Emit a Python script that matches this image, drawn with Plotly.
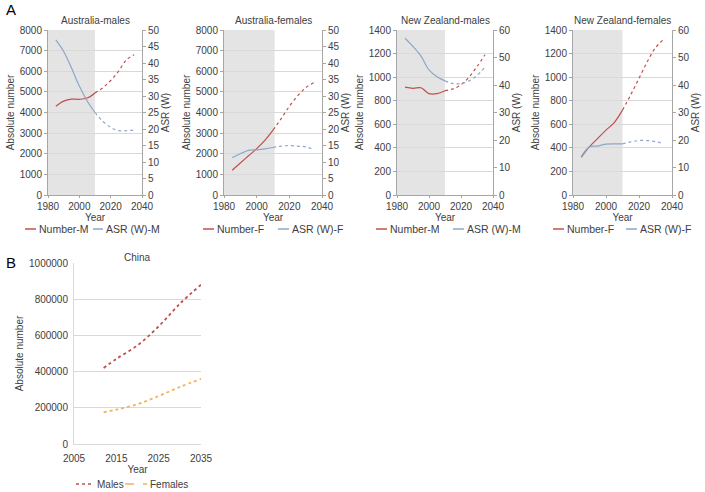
import plotly.graph_objects as go

# ---------------- data ----------------
years = [1985, 1990, 1995, 2000, 2005, 2010, 2015, 2020, 2025, 2030, 2035]

au_m_number = [4300, 4550, 4650, 4640, 4700, 4950, 5200, 5550, 6000, 6550, 6800]
au_m_asr = [47, 43.5, 38.5, 33, 28.5, 25, 22.3, 20.5, 19.5, 19.5, 19.7]

au_f_number = [1200, 1550, 1900, 2250, 2650, 3150, 3700, 4300, 4800, 5200, 5450]
au_f_asr = [11.3, 12.5, 13.5, 13.7, 14.0, 14.4, 14.8, 15.0, 14.8, 14.6, 13.8]

nz_m_number = [915, 905, 910, 860, 860, 885, 900, 935, 1000, 1090, 1190]
nz_m_asr = [57, 54, 50.5, 45.5, 43, 41.5, 40.5, 40.5, 41.5, 43.5, 46.5]

nz_f_number = [320, 410, 480, 550, 615, 720, 850, 990, 1130, 1250, 1320]
nz_f_asr = [14, 17.5, 17.8, 18.5, 18.6, 18.6, 19.3, 19.8, 19.8, 19.4, 18.7]

china_years = [2012, 2015, 2020, 2025, 2030, 2035]
china_males = [420000, 470000, 545000, 650000, 775000, 880000]
china_females = [175000, 190000, 220000, 265000, 315000, 360000]

panel_titles = ["Australia-males", "Australia-females", "New Zealand-males", "New Zealand-females"]
number_names = ["Number-M", "Number-F", "Number-M", "Number-F"]
asr_names = ["ASR (W)-M", "ASR (W)-F", "ASR (W)-M", "ASR (W)-F"]
number_series = [au_m_number, au_f_number, nz_m_number, nz_f_number]
asr_series = [au_m_asr, au_f_asr, nz_m_asr, nz_f_asr]
left_max = [8000, 8000, 1400, 1400]
left_step = [1000, 1000, 200, 200]
right_max = [50, 50, 60, 60]
right_step = [5, 5, 10, 10]
observed_end = [2010, 2011, 2010, 2010]
cut_year = 2010

# ---------------- style ----------------
W, H = 705, 492
RED = "#c0504d"
BLUE = "#8ba7c9"
ORANGE = "#f2b456"
GRID = "#d9d9d9"
AXIS = "#a6a6a6"
TXT = "#404040"
FONT = "Liberation Sans, Arial, sans-serif"
SHADE = "#e4e4e4"
FS = 10
LFS = 10.5

def px_x(a, b):
    return [a / W, b / W]

def px_y(top, bottom):
    return [1 - bottom / H, 1 - top / H]

x_domains = [px_x(48, 142), px_x(224, 322), px_x(397, 493), px_x(573, 672)]
top_ydom = px_y(30, 195)
# legend layout (pixels): line1 start, line1 end, line2 start, line2 end
legend_px = [(25, 36, 93, 103), (203, 214, 278, 289), (376, 387, 453, 464), (553, 564, 626, 637)]
LEG_Y = 229

fig = go.Figure()
layout = dict(
    width=W, height=H,
    margin=dict(l=0, r=0, t=0, b=0, autoexpand=False),
    paper_bgcolor="white", plot_bgcolor="white",
    font=dict(family=FONT, size=FS, color=TXT),
    showlegend=False,
    shapes=[], annotations=[],
)

def split(xs, ys, cut):
    hx = [x for x in xs if x <= cut]
    hy = [y for x, y in zip(xs, ys) if x <= cut]
    px_ = [x for x in xs if x >= cut]
    py = [y for x, y in zip(xs, ys) if x >= cut]
    return hx, hy, px_, py

def legend_item(x0, x1, y, color, dash, text, fs):
    layout["shapes"].append(dict(
        type="line", xref="paper", yref="paper", x0=x0 / W, x1=x1 / W,
        y0=1 - y / H, y1=1 - y / H, line=dict(color=color, width=1.5, dash=dash),
    ))
    layout["annotations"].append(dict(
        text=text, x=(x1 + 1) / W, y=1 - y / H, xref="paper", yref="paper",
        xanchor="left", yanchor="middle", showarrow=False,
        font=dict(size=fs, color=TXT),
    ))

for i in range(4):
    n = i + 1
    xa = "x" if n == 1 else f"x{n}"
    yl = f"y{2*n-1}" if n > 1 else "y"
    yr = f"y{2*n}"

    for vals, col, name, yax in [
        (number_series[i], RED, number_names[i], yl),
        (asr_series[i], BLUE, asr_names[i], yr),
    ]:
        hx, hy, pxs, pys = split(years, vals, cut_year)
        fig.add_trace(go.Scatter(x=hx, y=hy, mode="lines", name=name,
                                 line=dict(color=col, width=1.2, shape="spline"),
                                 xaxis=xa, yaxis=yax))
        fig.add_trace(go.Scatter(x=pxs, y=pys, mode="lines", name=name,
                                 line=dict(color=col, width=1.2, dash="dot", shape="spline"),
                                 xaxis=xa, yaxis=yax))

    xkey = "xaxis" if n == 1 else f"xaxis{n}"
    ylkey = "yaxis" if n == 1 else f"yaxis{2*n-1}"
    yrkey = f"yaxis{2*n}"
    layout[xkey] = dict(
        domain=x_domains[i], anchor=yl, range=[1980, 2040], tick0=1980, dtick=20,
        showgrid=False, zeroline=False, showline=True, linecolor=AXIS, linewidth=1,
        ticks="outside", ticklen=2, tickcolor=AXIS, tickfont=dict(size=FS, color=TXT),
        title=dict(text="Year", font=dict(size=FS, color=TXT), standoff=1),
    )
    layout[ylkey] = dict(
        domain=top_ydom, anchor=xa, range=[0, left_max[i]], dtick=left_step[i],
        showgrid=True, gridcolor=GRID, gridwidth=1, zeroline=False,
        showline=True, linecolor=AXIS, ticks="outside", ticklen=3, tickcolor=AXIS,
        tickfont=dict(size=FS, color=TXT),
        title=dict(text="Absolute number", font=dict(size=FS, color=TXT), standoff=3),
    )
    layout[yrkey] = dict(
        overlaying=yl, side="right", anchor=xa, range=[0, right_max[i]], dtick=right_step[i],
        showgrid=False, zeroline=False, showline=True, linecolor=AXIS,
        ticks="outside", ticklen=3, tickcolor=AXIS, tickfont=dict(size=FS, color=TXT),
        title=dict(text="ASR (W)", font=dict(size=FS, color=TXT), standoff=3),
    )
    layout["shapes"].append(dict(
        type="rect", xref=xa, yref=yl, x0=1980, x1=observed_end[i], y0=0, y1=left_max[i],
        fillcolor=SHADE, line=dict(width=0), layer="below",
    ))
    cx = sum(x_domains[i]) / 2
    layout["annotations"].append(dict(
        text=panel_titles[i], x=cx, y=1 - 20 / H, xref="paper", yref="paper",
        xanchor="center", yanchor="middle", showarrow=False,
        font=dict(size=FS, color=TXT),
    ))
    a, b, c, d = legend_px[i]
    legend_item(a, b, LEG_Y, RED, "solid", number_names[i], LFS)
    legend_item(c, d, LEG_Y, BLUE, "solid", asr_names[i], LFS)

# ---------------- China ----------------
fig.add_trace(go.Scatter(x=china_years, y=china_males, mode="lines", name="Males",
                         line=dict(color=RED, width=1.8, dash="dot", shape="spline"),
                         xaxis="x5", yaxis="y9"))
fig.add_trace(go.Scatter(x=china_years, y=china_females, mode="lines", name="Females",
                         line=dict(color=ORANGE, width=1.8, dash="dot", shape="spline"),
                         xaxis="x5", yaxis="y9"))

cdx = px_x(74, 201)
layout["xaxis5"] = dict(
    domain=cdx, anchor="y9", range=[2005, 2035], tick0=2005, dtick=10,
    showgrid=False, zeroline=False, showline=True, linecolor=GRID,
    ticks="outside", ticklen=5, tickcolor="rgba(0,0,0,0)",
    tickfont=dict(size=FS, color=TXT),
    title=dict(text="Year", font=dict(size=FS, color=TXT), standoff=1),
)
layout["yaxis9"] = dict(
    domain=px_y(263, 444), anchor="x5", range=[0, 1000000], dtick=200000,
    showgrid=True, gridcolor=GRID, zeroline=False, showline=True, linecolor=GRID,
    ticks="outside", ticklen=3, tickcolor="rgba(0,0,0,0)",
    tickfont=dict(size=FS, color=TXT), tickformat="d",
    title=dict(text="Absolute number", font=dict(size=FS, color=TXT), standoff=3),
)
layout["annotations"].append(dict(
    text="China", x=sum(cdx) / 2, y=1 - 257 / H, xref="paper", yref="paper",
    xanchor="center", yanchor="middle", showarrow=False, font=dict(size=FS, color=TXT),
))
legend_item(76, 94, 484, RED, "dot", "Males", FS)
legend_item(125, 147, 484, ORANGE, "dash", "Females", FS)

# Panel letters
layout["annotations"].append(dict(text="A", x=4 / W, y=1 - 9 / H, xref="paper", yref="paper",
                                  xanchor="left", yanchor="middle", showarrow=False,
                                  font=dict(size=15, color="#000")))
layout["annotations"].append(dict(text="B", x=4 / W, y=1 - 262 / H, xref="paper", yref="paper",
                                  xanchor="left", yanchor="middle", showarrow=False,
                                  font=dict(size=15, color="#000")))

fig.update_layout(**layout)
fig.write_html("out.html", config={"displayModeBar": False},
               post_script="document.body.style.margin='0px';")
